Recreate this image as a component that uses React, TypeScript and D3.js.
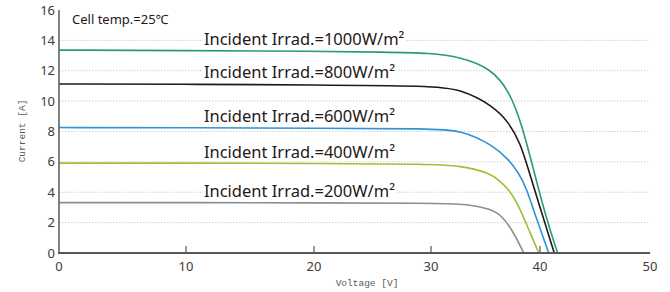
import React, { useRef, useEffect } from "react";
import * as d3 from "d3";

// I-V curves at 25°C, one per irradiance level (voltage [V] / current [A])
const irradiances = [1000, 800, 600, 400, 200];
const colors = ["#2a9b78", "#231815", "#2f93d5", "#9dbf3c", "#8e8e8e"];

const volts1000 = [0, 10, 20, 26, 30, 32.7, 35.4, 37.2, 38.4, 39.4, 40.6, 41.6];
const amps1000 = [13.36, 13.33, 13.29, 13.22, 13.17, 12.9, 12.2, 10.7, 8.3, 5.5, 2.2, 0];

const volts800 = [0, 10, 20, 30, 32.7, 35.7, 37.2, 38.2, 38.9, 40, 41.3];
const amps800 = [11.13, 11.11, 11.07, 11.0, 10.8, 9.7, 8.55, 7.2, 5.6, 3.0, 0];

const volts600 = [0, 10, 20, 30, 32.7, 35.7, 37.2, 38.0, 38.7, 39.7, 40.8];
const amps600 = [8.26, 8.25, 8.22, 8.18, 8.1, 7.1, 6.1, 5.3, 4.4, 2.2, 0];

const volts400 = [0, 10, 20, 30, 32.7, 35.4, 36.3, 37.2, 38.1, 39.1, 39.9];
const amps400 = [5.92, 5.92, 5.9, 5.86, 5.75, 5.27, 4.75, 4.15, 3.05, 1.3, 0];

const volts200 = [0, 10, 20, 30, 33.5, 35.4, 36.3, 37.5, 38.5];
const amps200 = [3.32, 3.32, 3.3, 3.28, 3.22, 2.9, 2.6, 1.5, 0];

const seriesVolts = [volts1000, volts800, volts600, volts400, volts200];
const seriesAmps = [amps1000, amps800, amps600, amps400, amps200];

const xTicks = [0, 10, 20, 30, 40, 50];
const yTicks = [0, 2, 4, 6, 8, 10, 12, 14, 16];

const App = () => {
  const svgRef = useRef<SVGSVGElement>(null);

  useEffect(() => {
    const width = 670;
    const height = 292;

    const svg = d3.select(svgRef.current).attr("width", width).attr("height", height);
    svg.selectAll("*").remove();

    // the source chart's voltage axis is not evenly spaced
    const x = d3.scaleLinear().domain(xTicks).range([59, 186, 314, 431, 540, 650]);
    const y = d3.scaleLinear().domain([0, 16]).range([253, 10]);

    const sans = "'Noto Sans', sans-serif";

    // grid
    svg
      .append("g")
      .selectAll("line")
      .data(yTicks.filter((t) => t > 0 && t < 16))
      .join("line")
      .attr("x1", x(0))
      .attr("x2", x(50))
      .attr("y1", (d) => y(d))
      .attr("y2", (d) => y(d))
      .attr("stroke", "#cfcfcf")
      .attr("stroke-width", 1)
      .attr("stroke-dasharray", "1.5,1.5");

    // curves
    const line = d3
      .line<[number, number]>()
      .x((d) => x(d[0]))
      .y((d) => y(d[1]))
      .curve(d3.curveBasis);

    irradiances.forEach((irr, i) => {
      const pts = seriesVolts[i].map((v, j) => [v, seriesAmps[i][j]] as [number, number]);
      svg
        .append("path")
        .attr("d", line(pts))
        .attr("fill", "none")
        .attr("stroke", colors[i])
        .attr("stroke-width", 1.6);
    });

    // curve labels
    irradiances.forEach((irr, i) => {
      const g = svg.append("g");
      const t = g
        .append("text")
        .attr("x", x(11.4))
        .attr("y", y(seriesAmps[i][0]) - 5.5)
        .attr("font-family", sans)
        .attr("font-size", 16.5)
        .attr("fill", "#231815")
        .text(`Incident Irrad.=${irr}W/m²`);
      const bb = (t.node() as SVGTextElement).getBBox();
      g.insert("rect", "text")
        .attr("x", bb.x - 1)
        .attr("y", bb.y + 3)
        .attr("width", bb.width + 2)
        .attr("height", bb.height - 6)
        .attr("fill", "#fff");
    });

    svg
      .append("text")
      .attr("x", 72)
      .attr("y", 24)
      .attr("font-family", sans)
      .attr("font-size", 13)
      .attr("fill", "#231815")
      .text("Cell temp.=25℃");

    // axes
    svg
      .append("line")
      .attr("x1", x(0))
      .attr("x2", x(0))
      .attr("y1", y(16))
      .attr("y2", y(0))
      .attr("stroke", "#595757")
      .attr("stroke-width", 1.5);
    svg
      .append("line")
      .attr("x1", x(0) - 1)
      .attr("x2", x(50))
      .attr("y1", y(0))
      .attr("y2", y(0))
      .attr("stroke", "#595757")
      .attr("stroke-width", 2);

    svg
      .append("g")
      .selectAll("line")
      .data(xTicks.filter((t) => t > 0 && t < 50))
      .join("line")
      .attr("x1", (d) => x(d))
      .attr("x2", (d) => x(d))
      .attr("y1", y(0))
      .attr("y2", y(0) - 7)
      .attr("stroke", "#595757")
      .attr("stroke-width", 1.2);

    svg
      .append("g")
      .selectAll("text")
      .data(xTicks)
      .join("text")
      .attr("x", (d) => x(d))
      .attr("y", 271)
      .attr("text-anchor", "middle")
      .attr("font-family", sans)
      .attr("font-size", 13)
      .attr("fill", "#3e3a39")
      .text((d) => d);

    svg
      .append("g")
      .selectAll("text")
      .data(yTicks)
      .join("text")
      .attr("x", 55)
      .attr("y", (d) => y(d) + 4.5)
      .attr("text-anchor", "end")
      .attr("font-family", sans)
      .attr("font-size", 13)
      .attr("fill", "#3e3a39")
      .text((d) => d);

    svg
      .append("text")
      .attr("x", 367)
      .attr("y", 286)
      .attr("text-anchor", "middle")
      .attr("font-family", "'Liberation Mono', monospace")
      .attr("font-size", 9.5)
      .attr("fill", "#595757")
      .text("Voltage [V]");

    svg
      .append("text")
      .attr("transform", "translate(25,131) rotate(-90)")
      .attr("text-anchor", "middle")
      .attr("font-family", "'Liberation Mono', monospace")
      .attr("font-size", 9.5)
      .attr("fill", "#595757")
      .text("Current [A]");
  }, []);

  return <svg ref={svgRef} style={{ position: "absolute", left: 0, top: 0 }}></svg>;
};

export default App;
